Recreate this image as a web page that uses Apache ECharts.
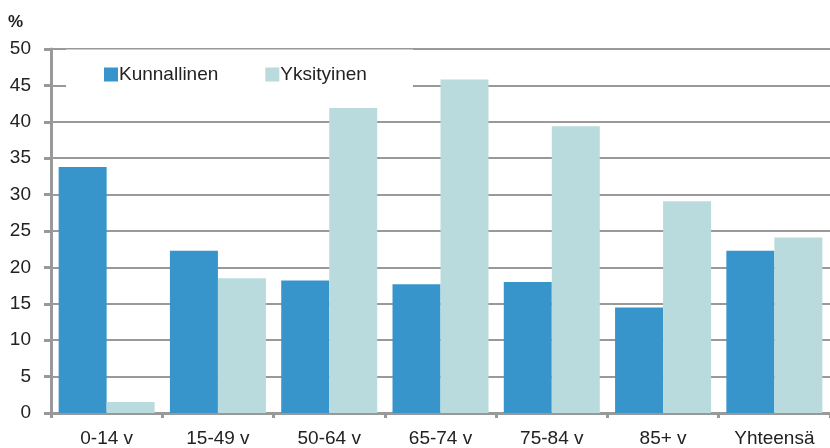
<!DOCTYPE html>
<html>
<head>
<meta charset="utf-8">
<script src="https://cdn.jsdelivr.net/npm/echarts@6/dist/echarts.min.js"></script>
<style>
html,body{margin:0;padding:0;background:#fff;}
#c{width:830px;height:448px;}
</style>
</head>
<body>
<div id="c"></div>
<script>
var categories = ['0-14 v', '15-49 v', '50-64 v', '65-74 v', '75-84 v', '85+ v', 'Yhteensä'];
var kunnallinen = [33.8, 22.3, 18.2, 17.7, 18.0, 14.5, 22.3];
var yksityinen = [1.5, 18.5, 41.9, 45.8, 39.4, 29.1, 24.1];
var seriesNames = ['Kunnallinen', 'Yksityinen'];

var chart = echarts.init(document.getElementById('c'), null, {renderer: 'canvas'});
var font = 'Liberation Sans, Arial, sans-serif';
chart.setOption({
  animation: false,
  backgroundColor: '#fff',
  title: {
    text: '%', left: 8, top: 14, padding: 0,
    textStyle: {fontFamily: font, fontSize: 17, fontWeight: 'bold', color: '#222'}
  },
  graphic: [{
    type: 'rect', z: 3,
    shape: {x: 66, y: 49.5, width: 347, height: 51},
    style: {fill: '#fff'}
  }],
  legend: {
    left: 104, top: 65, padding: 0,
    itemWidth: 14, itemHeight: 14, itemGap: 47,
    icon: 'rect',
    textStyle: {fontFamily: font, fontSize: 19, color: '#222', padding: [0, 0, 0, -4]},
    data: seriesNames
  },
  grid: {left: 51, top: 49, width: 790, height: 364, containLabel: false},
  xAxis: {
    type: 'category',
    data: categories,
    axisLine: {lineStyle: {color: '#999', width: 3}},
    axisTick: {show: true, length: 5, lineStyle: {color: '#999', width: 3}},
    axisLabel: {fontFamily: font, fontSize: 19, color: '#222', margin: 16, interval: 0}
  },
  yAxis: {
    type: 'value',
    min: 0, max: 50, interval: 5,
    axisLine: {show: true, lineStyle: {color: '#999', width: 3}},
    axisTick: {show: true, length: 7, lineStyle: {color: '#999', width: 3}},
    axisLabel: {fontFamily: font, fontSize: 19, color: '#222', margin: 20},
    splitLine: {show: true, lineStyle: {color: '#999', width: 2}}
  },
  series: [
    {name: seriesNames[0], type: 'bar', data: kunnallinen, barWidth: 48, barGap: '0%',
     itemStyle: {color: '#3795cc'}},
    {name: seriesNames[1], type: 'bar', data: yksityinen, barWidth: 48, barGap: '0%',
     itemStyle: {color: '#badbde'}}
  ]
});
</script>
</body>
</html>
